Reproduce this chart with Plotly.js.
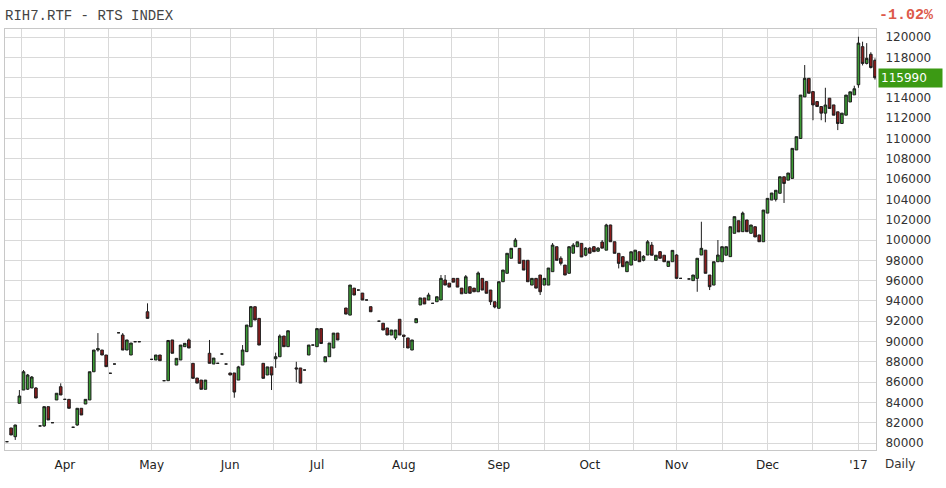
<!DOCTYPE html>
<html>
<head>
<meta charset="utf-8">
<script src="https://cdn.plot.ly/plotly-3.0.1.min.js"></script>
<style>html,body{margin:0;padding:0;background:#fff;}#chart{width:946px;height:488px;}</style>
</head>
<body>
<div id="chart"></div>
<script>
// Trading days (slots on the x axis)
const dates = [
"2016-03-14","2016-03-15","2016-03-16","2016-03-17","2016-03-18","2016-03-21","2016-03-22","2016-03-23","2016-03-24","2016-03-25","2016-03-28","2016-03-29","2016-03-30","2016-03-31",
"2016-04-01","2016-04-04","2016-04-05","2016-04-06","2016-04-07","2016-04-08","2016-04-11","2016-04-12","2016-04-13","2016-04-14","2016-04-15","2016-04-18","2016-04-19","2016-04-20","2016-04-21","2016-04-22","2016-04-25","2016-04-26","2016-04-27","2016-04-28","2016-04-29",
"2016-05-04","2016-05-05","2016-05-06","2016-05-10","2016-05-11","2016-05-12","2016-05-13","2016-05-16","2016-05-17","2016-05-18","2016-05-19","2016-05-20","2016-05-23","2016-05-24","2016-05-25","2016-05-26","2016-05-27","2016-05-30","2016-05-31",
"2016-06-01","2016-06-02","2016-06-03","2016-06-06","2016-06-07","2016-06-08","2016-06-09","2016-06-10","2016-06-14","2016-06-15","2016-06-16","2016-06-17","2016-06-20","2016-06-21","2016-06-22","2016-06-23","2016-06-24","2016-06-27","2016-06-28","2016-06-29","2016-06-30",
"2016-07-01","2016-07-04","2016-07-05","2016-07-06","2016-07-07","2016-07-08","2016-07-11","2016-07-12","2016-07-13","2016-07-14","2016-07-15","2016-07-18","2016-07-19","2016-07-20","2016-07-21","2016-07-22","2016-07-25","2016-07-26","2016-07-27","2016-07-28","2016-07-29",
"2016-08-01","2016-08-02","2016-08-03","2016-08-04","2016-08-05","2016-08-08","2016-08-09","2016-08-10","2016-08-11","2016-08-12","2016-08-15","2016-08-16","2016-08-17","2016-08-18","2016-08-19","2016-08-22","2016-08-23","2016-08-24","2016-08-25","2016-08-26","2016-08-29","2016-08-30","2016-08-31",
"2016-09-01","2016-09-02","2016-09-05","2016-09-06","2016-09-07","2016-09-08","2016-09-09","2016-09-12","2016-09-13","2016-09-14","2016-09-15","2016-09-16","2016-09-19","2016-09-20","2016-09-21","2016-09-22","2016-09-23","2016-09-26","2016-09-27","2016-09-28","2016-09-29","2016-09-30",
"2016-10-03","2016-10-04","2016-10-05","2016-10-06","2016-10-07","2016-10-10","2016-10-11","2016-10-12","2016-10-13","2016-10-14","2016-10-17","2016-10-18","2016-10-19","2016-10-20","2016-10-21","2016-10-24","2016-10-25","2016-10-26","2016-10-27","2016-10-28","2016-10-31",
"2016-11-01","2016-11-02","2016-11-03","2016-11-04","2016-11-07","2016-11-08","2016-11-09","2016-11-10","2016-11-11","2016-11-14","2016-11-15","2016-11-16","2016-11-17","2016-11-18","2016-11-21","2016-11-22","2016-11-23","2016-11-24","2016-11-25","2016-11-28","2016-11-29","2016-11-30",
"2016-12-01","2016-12-02","2016-12-05","2016-12-06","2016-12-07","2016-12-08","2016-12-09","2016-12-12","2016-12-13","2016-12-14","2016-12-15","2016-12-16","2016-12-19","2016-12-20","2016-12-21","2016-12-22","2016-12-23","2016-12-26","2016-12-27","2016-12-28","2016-12-29","2016-12-30",
"2017-01-09","2017-01-10","2017-01-11","2017-01-12","2017-01-13"
];

const openP = [
80130,81480,80620,83910,85220,85300,85420,85420,81680,81680,83580,82000,84240,85550,
84300,84300,81550,81770,83420,83840,84240,87020,89160,89160,88670,86870,87780,90860,90640,89160,88670,89980,89980,null,92930,
88240,88180,88670,86140,86140,90150,87680,88180,89490,90150,87850,86400,86200,85290,88840,87780,87850,88770,87780,
86900,86900,86200,87680,89000,91450,93430,92280,87850,86700,87500,88300,88500,90540,89490,null,87400,87390,87190,88670,89650,
89490,91270,88000,88500,89360,90830,null,93300,92600,95260,95070,94770,94090,93430,null,92000,91800,91330,90640,90350,92190,
90640,90350,89160,91850,93600,94290,94090,93760,93920,94090,96060,95750,96220,96220,95260,94750,95400,95260,94900,96220,95900,95070,93920,
93270,95890,96720,98200,99340,99180,98000,98000,95560,96220,96550,95560,95560,96880,99340,98200,97530,96720,98700,99340,99670,98500,
99200,99340,98900,99800,99000,101480,99830,98690,98360,96880,97530,98000,98840,98000,98520,99500,98000,98850,98500,97400,97860,
98520,96220,null,96160,96000,96220,98520,99000,96550,95560,97860,97860,98500,98360,100660,101900,100820,101970,100660,101310,100500,99830,
102650,103940,104000,104600,106230,105900,106070,108870,110000,114100,115930,114620,113640,113150,112500,113970,113310,112630,111480,112300,113600,114300,
115300,119050,117400,118300,117700
];
const highP = [
80130,81480,81800,85220,87190,86800,86600,85500,81680,83600,83580,82000,84900,85880,
84300,84300,81550,83420,83420,84300,87020,89160,90830,89160,88670,86870,87780,90860,90830,90150,89850,89980,89980,null,93760,
88240,88670,88670,86140,90150,90150,88340,89650,89820,90300,87850,86400,86200,86200,90150,88370,87850,88770,87780,
86900,86900,87600,89650,91620,93500,93430,92280,87850,87500,87500,88900,90700,90540,91060,null,88000,87390,87190,89650,89650,
91270,91270,88500,89850,90830,90830,null,93300,95560,95260,95070,94770,94090,93430,null,92000,91800,91330,91130,91130,92190,
90640,90350,90150,92250,94290,94290,94800,93760,94410,96550,96550,95750,96220,96220,95260,96550,95400,95260,96900,96220,95900,95070,93920,
95890,97040,98690,99180,100200,99180,98000,98000,96220,96220,96550,96220,97240,99700,99340,98400,97530,99340,99700,99820,99670,99300,
99300,99400,99300,100000,101600,101500,99830,98690,98360,97860,98840,99000,98840,98500,100000,99800,98500,98900,98500,97900,99000,
98600,96220,null,96160,96550,98200,101800,99000,96550,97860,100000,99340,99340,101310,102300,101900,102800,101970,101480,101310,100500,102950,
104100,104630,104900,106230,106230,106600,109030,110180,114280,117240,115930,114620,113640,113150,115000,113970,113310,112630,112500,114280,114600,115200,
120030,119540,119400,118500,117900
];
const lowP = [
80130,80790,80300,83910,85220,85220,85420,84430,81680,81600,82270,82000,84240,84730,
84300,83420,81550,81700,82760,83840,84240,87020,89000,88670,87520,86870,87780,90860,89160,89160,88670,89980,89980,null,92280,
88240,88180,88110,86140,86140,88840,87680,88180,89490,89360,86370,85900,85290,85290,87850,87780,87850,88770,87780,
86700,84460,86200,87680,89000,91450,92120,89650,86370,86700,85220,87400,88500,89490,89490,null,86000,85900,87190,88670,89650,
89490,89800,88000,88500,89360,90150,null,92700,92600,94580,95070,94090,94090,92930,null,92000,91130,90640,90640,90150,90640,
89360,89360,89160,91850,93600,93700,94090,93760,93920,94090,95560,95360,95850,95360,94700,94750,94750,94900,94900,95070,94750,93600,93270,
93270,95890,96720,98200,99340,97700,97040,95890,95560,95260,94580,95560,95560,96880,98000,97500,96550,96720,98700,99340,98330,98400,
98700,98850,98850,99200,99000,99830,98690,97200,97370,96880,97530,98000,97860,97900,98520,98500,98000,98200,97860,97400,97860,
96220,96220,null,96160,96000,94900,98520,96720,95070,95560,97860,97860,98500,98360,100660,100800,100820,100820,100660,100300,99830,99830,
102650,103940,103800,104600,103650,105900,106070,108870,110000,114100,114460,111800,113150,111800,111600,112960,112300,110830,111480,112300,113600,114300,
115000,117200,117300,116900,115800
];
const closeP = [
80130,80790,81770,84630,87020,86700,86500,84430,81680,83580,82270,82000,84900,84730,
84300,83420,81550,83420,82760,84300,87020,89160,89300,88670,87520,86870,87780,90860,89160,90150,89850,89980,89980,null,92280,
88240,88670,88110,86140,90100,88840,88340,89650,89820,89360,86370,85900,85290,86200,87850,88370,87850,88770,87780,
86700,85020,87500,89160,91620,93430,92120,89650,86370,87500,86700,88500,90540,89490,91060,null,87300,85900,87190,89650,89650,
91270,89800,88500,89850,90830,90150,null,92700,95560,94580,95070,94090,94090,92930,null,92000,91130,90640,91130,91130,90640,
90500,89360,90150,92250,94290,93700,94580,93760,94410,96220,95560,95360,95850,95360,94700,96380,94750,94900,96750,95070,94750,93920,93400,
95890,97040,98690,99180,100000,97700,97040,95890,96220,95260,94900,96220,97240,99500,98000,97700,96550,99340,99500,99820,98330,99200,
98700,98850,99200,99200,101480,99830,98690,97700,97370,97860,98840,99000,97860,98400,99820,98500,98500,98200,97860,97900,98980,
96220,96220,null,96160,96550,98200,99180,96720,95400,97860,98520,99340,99340,101310,102300,100800,102650,100820,101480,100300,99830,102950,
104100,104630,104900,106230,105570,106600,109030,110180,114280,115930,114460,113310,113150,112500,113300,112960,112300,111480,112500,114280,114600,114900,
119400,117400,117900,117000,115990
];

const monthLabels = ["Apr","May","Jun","Jul","Aug","Sep","Oct","Nov","Dec","'17"];
const yTicks = [80000,82000,84000,86000,88000,90000,92000,94000,96000,98000,100000,102000,104000,106000,108000,110000,112000,114000,116000,118000,120000];
const titleText = "RIH7.RTF - RTS INDEX";
const changeText = "-1.02%";
const lastPrice = 115990;
const periodText = "Daily";

// slot index for every trading day
const xIdx = dates.map((d, i) => i);

// month starts (first trading day of each new month)
const starts = [];
for (let i = 1; i < dates.length; i++) {
  if (dates[i].slice(0, 7) !== dates[i - 1].slice(0, 7)) starts.push(i);
}
const tickvals = [], ticktext = [];
tickvals.push(starts[0] - (starts[1] - starts[0]) / 2); ticktext.push("");
starts.forEach((s, k) => {
  tickvals.push(s); ticktext.push(monthLabels[k]);
  if (k < starts.length - 1) { tickvals.push((s + starts[k + 1]) / 2); ticktext.push(""); }
});

// the last-price tag covers the tick label nearest to it
const yText = yTicks.map(v => (Math.abs(v - lastPrice) < 1000 ? "" : String(v)));

const trace = {
  type: "candlestick",
  x: xIdx, open: openP, high: highP, low: lowP, close: closeP,
  increasing: { line: { color: "#1e1e1e", width: 1 }, fillcolor: "#3a9a33" },
  decreasing: { line: { color: "#1e1e1e", width: 1 }, fillcolor: "#8c1c1c" },
  whiskerwidth: 0,
  hoverinfo: "none"
};

const gridC = "#d9d9d9";
const layout = {
  width: 946, height: 488,
  margin: { l: 5, r: 70, t: 29, b: 38, pad: 0 },
  paper_bgcolor: "#ffffff", plot_bgcolor: "#ffffff",
  showlegend: false,
  boxgap: 0.1,
  font: { family: "DejaVu Sans", size: 12, color: "#333" },
  title: {
    text: titleText, xref: "container", yref: "container",
    x: 5 / 946, xanchor: "left", y: 1 - 15 / 488, yanchor: "middle",
    font: { family: "Liberation Mono", size: 14, color: "#444" }
  },
  xaxis: {
    type: "linear", range: [-0.48, 210.25],
    tickmode: "array", tickvals: tickvals, ticktext: ticktext,
    showgrid: true, gridcolor: gridC, gridwidth: 1, zeroline: false,
    showline: true, mirror: true, linecolor: "#c8c8c8", linewidth: 1,
    ticks: "", ticklabelstandoff: 4,
    tickfont: { family: "DejaVu Sans", size: 12, color: "#222" },
    rangeslider: { visible: false }, fixedrange: true
  },
  yaxis: {
    side: "right", range: [79310, 120790],
    tickmode: "array", tickvals: yTicks, ticktext: yText,
    showgrid: true, gridcolor: gridC, gridwidth: 1, zeroline: false,
    showline: true, mirror: true, linecolor: "#c8c8c8", linewidth: 1,
    ticks: "", ticklabelstandoff: 6,
    tickfont: { family: "DejaVu Sans", size: 12, color: "#333" },
    fixedrange: true
  },
  annotations: [
    { xref: "paper", yref: "y", x: 1, y: lastPrice, xanchor: "left", yanchor: "middle", xshift: 2,
      text: String(lastPrice), showarrow: false, bgcolor: "#3c9a14", borderpad: 2, width: 59, align: "left",
      font: { family: "DejaVu Sans", size: 12, color: "#ffffff" } },
    { xref: "paper", yref: "paper", x: 1, y: 1, yshift: 14, xshift: 1, xanchor: "left", yanchor: "middle",
      text: "<b>" + changeText + "</b>", showarrow: false,
      font: { family: "Liberation Mono", size: 15, color: "#dd5a4a" } },
    { xref: "paper", yref: "paper", x: 1, y: 0, yshift: -14, xshift: 7, xanchor: "left", yanchor: "middle",
      text: periodText, showarrow: false,
      font: { family: "DejaVu Sans", size: 12, color: "#333" } }
  ]
};

Plotly.newPlot("chart", [trace], layout, { displayModeBar: false, staticPlot: true });
</script>
</body>
</html>
